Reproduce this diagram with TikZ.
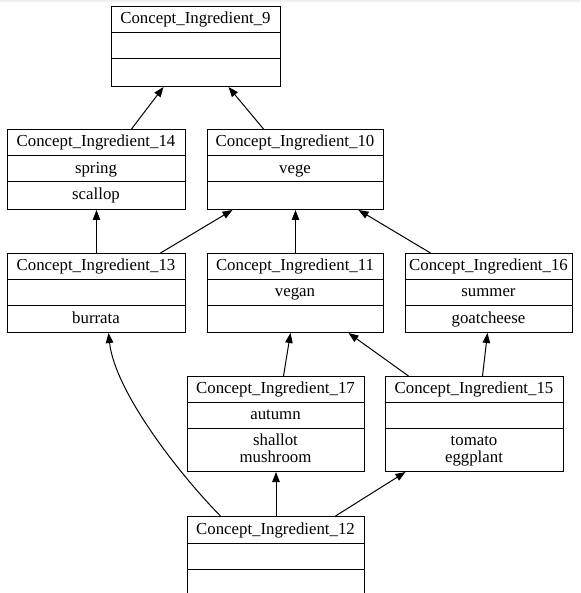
\documentclass[tikz,border=0pt]{standalone}
\usepackage{fontspec}
\setmainfont{Liberation Serif}
\usetikzlibrary{arrows.meta}
\tikzset{
  boxframe/.style={draw, line width=1pt, inner sep=0pt, anchor=north west},
  sepline/.style={line width=1pt},
  rowtext/.style={font=\fontsize{16.8pt}{17pt}\selectfont, align=center, inner sep=0pt, text height=12pt, text depth=3pt},
  rowtwo/.style={rowtext, text height=29pt},
  conn/.style={line width=1pt, -{Triangle[length=10pt,width=7.5pt]}}
}
\newcommand{\umlbox}[9]{%
  % #1 name, #2 x1, #3 y1, #4 x2, #5 y2, #6 sep1, #7 sep2, #8 title, #9 rows (two, separated by |)
  \node[boxframe, minimum width={(#4-#2)*1pt}, minimum height={(#5-#3)*1pt}] (#1) at (#2,#3) {};
  \draw[sepline] (#2,#6) -- (#4,#6);
  \draw[sepline] (#2,#7) -- (#4,#7);
  \node[rowtext] (#1t) at ({(#2+#4)/2},{(#3+#6)/2}) {#8};
  \umlrows{#1}{#2}{#4}{#6}{#7}{#5}#9\relax
}
\def\umlrows#1#2#3#4#5#6#7|#8\relax{%
  \node[rowtext] (#1a) at ({(#2+#3)/2},{(#4+#5)/2}) {#7};
  \node[rowtext] (#1b) at ({(#2+#3)/2},{(#5+#6)/2}) {#8};
}
\begin{document}
\begin{tikzpicture}[x=1pt,y=-1pt]
\clip (0,0) rectangle (580,593);
\useasboundingbox (0,0) rectangle (580,593);
\fill[white] (0,0) rectangle (580,593);
\fill[black!6] (0,0) rectangle (580,2);

\umlbox{n9}{111}{6}{280}{86}{33}{59}{Concept\_Ingredient\_9}{|}
\umlbox{n14}{7}{129}{185}{209}{156}{182}{Concept\_Ingredient\_14}{spring|scallop}
\umlbox{n10}{207}{129}{383}{209}{156}{182}{Concept\_Ingredient\_10}{vege|}
\umlbox{n13}{7}{253}{185}{332}{279}{305}{Concept\_Ingredient\_13}{|burrata}
\umlbox{n11}{207}{253}{383}{332}{279}{305}{Concept\_Ingredient\_11}{vegan|}
\umlbox{n16}{405}{253}{572}{332}{279}{305}{Concept\_Ingredient\_16}{summer|goatcheese}
\umlbox{n17}{187}{376}{364}{471}{402}{428}{Concept\_Ingredient\_17}{autumn|}
\node[rowtwo] (n17c) at (275.5,449.5) {shallot\\mushroom};
\umlbox{n15}{385}{376}{563}{471}{402}{428}{Concept\_Ingredient\_15}{|}
\node[rowtwo] (n15c) at (474,449.5) {tomato\\eggplant};
\umlbox{n12}{187}{516}{364}{600}{543}{569}{Concept\_Ingredient\_12}{|}

\draw[conn] ([xshift=35pt]n14.north) -- ([xshift=-32.5pt]n9.south);
\draw[conn] ([xshift=-32pt]n10.north) -- ([xshift=32.5pt]n9.south);
\draw[conn] (n13.north) -- (n14.south);
\draw[conn] ([xshift=64pt]n13.north) -- ([xshift=-63pt]n10.south);
\draw[conn] (n11.north) -- (n10.south);
\draw[conn] ([xshift=-58.5pt]n16.north) -- ([xshift=63pt]n10.south);
\draw[conn] ([xshift=7.5pt]n17.north) -- ([xshift=-5pt]n11.south);
\draw[conn] ([xshift=-66pt]n15.north) -- ([xshift=53pt]n11.south);
\draw[conn] ([xshift=8pt]n15.north) -- ([xshift=-1.5pt]n16.south);
\draw[conn] (n12.north) -- (n17.south);
\draw[conn] ([xshift=59.5pt]n12.north) -- ([xshift=-69pt]n15.south);
\draw[conn] ([xshift=-55.5pt]n12.north) .. controls (180,475) and (115,392) .. ([xshift=12pt]n13.south);
\end{tikzpicture}
\end{document}
